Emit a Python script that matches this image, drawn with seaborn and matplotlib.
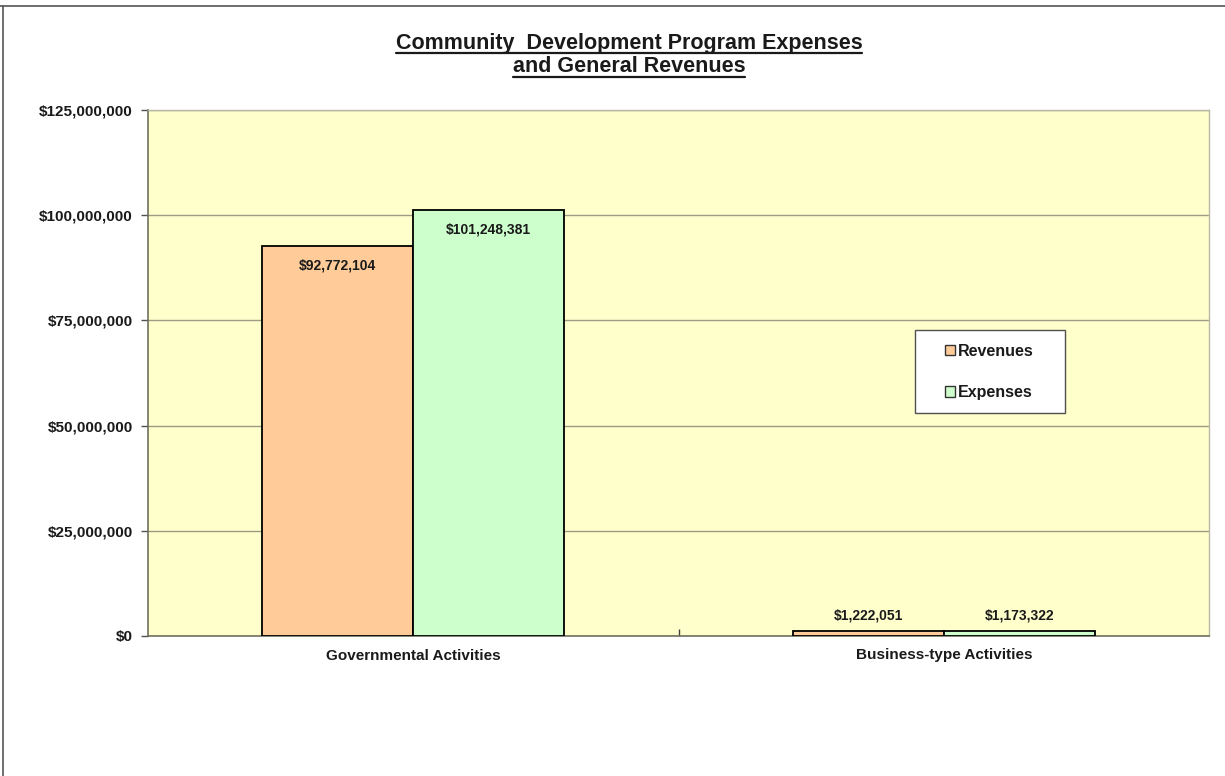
import matplotlib
matplotlib.use("Agg")
import matplotlib.pyplot as plt
import matplotlib.patches as mpatches
from matplotlib.lines import Line2D
from matplotlib.ticker import FuncFormatter, FixedLocator
import seaborn as sns
import pandas as pd

categories = ["Governmental Activities", "Business-type Activities"]
series = ["Revenues", "Expenses"]
revenues = [92772104, 1222051]
expenses = [101248381, 1173322]
y_ticks = [0, 25000000, 50000000, 75000000, 100000000, 125000000]

colors = {"Revenues": "#FFCC99", "Expenses": "#CCFFCC"}

df = pd.DataFrame({
    "Category": categories * 2,
    "Series": ["Revenues"] * len(categories) + ["Expenses"] * len(categories),
    "Value": revenues + expenses,
})

sns.set_theme(style="white")
plt.rcParams["font.family"] = ["Liberation Sans", "DejaVu Sans"]
plt.rcParams["font.weight"] = "bold"

W, H = 1225, 776
fig = plt.figure(figsize=(W / 100, H / 100), dpi=100)
ax = fig.add_axes([148 / W, 1 - 636 / H, (1209 - 148) / W, (636 - 110) / H])
ax.set_facecolor("#FFFFCC")

sns.barplot(data=df, x="Category", y="Value", hue="Series", order=categories,
            hue_order=series, palette=colors, width=0.57, ax=ax,
            edgecolor="black", linewidth=1.3, saturation=1, legend=False,
            zorder=3)

ax.set_ylim(0, 125000000)
ax.set_xlim(-0.5, 1.5)
ax.set_yticks(y_ticks)
ax.yaxis.set_major_formatter(FuncFormatter(lambda v, p: f"${v:,.0f}"))
ax.grid(axis="y", color="#9C9C84", linewidth=1.0, zorder=0)
ax.set_axisbelow(True)
ax.set_xlabel("")
ax.set_ylabel("")

for s in ["top", "right"]:
    ax.spines[s].set_color("#B8B8A8")
    ax.spines[s].set_linewidth(1.0)
for s in ["left", "bottom"]:
    ax.spines[s].set_color("#707060")
    ax.spines[s].set_linewidth(1.2)

ax.tick_params(axis="y", which="major", direction="out", length=5, width=1,
               color="#505050", left=True, labelsize=11, pad=6)
ax.tick_params(axis="x", which="major", length=0, labelsize=11, pad=9)
ax.xaxis.set_minor_locator(FixedLocator([0.5]))
ax.tick_params(axis="x", which="minor", direction="in", length=5, width=1,
               color="#404040", bottom=True)
for lbl in ax.get_xticklabels() + ax.get_yticklabels():
    lbl.set_fontweight("bold")
    lbl.set_color("#1a1a1a")

# value labels: inside the tall bars, above the short ones
for container, vals in zip(ax.containers, [revenues, expenses]):
    for bar, v in zip(container, vals):
        cx = bar.get_x() + bar.get_width() / 2
        top = bar.get_height()
        if top > 20000000:
            ax.annotate(f"${v:,.0f}", (cx, top), xytext=(0, -9),
                        textcoords="offset points", ha="center", va="top",
                        fontsize=10, fontweight="bold", color="#1a1a1a")
        else:
            ax.annotate(f"${v:,.0f}", (cx, top), xytext=(0, 6),
                        textcoords="offset points", ha="center", va="bottom",
                        fontsize=10, fontweight="bold", color="#1a1a1a")

# legend: white box with two entries
box = mpatches.Rectangle((915 / W, 1 - 413 / H), 150 / W, 83 / H,
                         transform=fig.transFigure, facecolor="white",
                         edgecolor="#505050", linewidth=1.0, zorder=5)
fig.add_artist(box)
handles = [mpatches.Patch(facecolor=colors[s], edgecolor="#333333", linewidth=1.0, label=s)
           for s in series]
leg = fig.legend(handles=handles, loc="center left",
                 bbox_to_anchor=(945 / W, 1 - 372 / H), frameon=False,
                 prop={"size": 11.5, "weight": "bold"},
                 handlelength=0.6, handleheight=0.6, handletextpad=0.2,
                 labelspacing=1.65, borderpad=0, borderaxespad=0)
leg.set_zorder(6)
for t in leg.get_texts():
    t.set_color("#1a1a1a")

# title, two underlined lines
title_lines = ["Community  Development Program Expenses", "and General Revenues"]
title_y = [43, 67]
fig.canvas.draw()
renderer = fig.canvas.get_renderer()
for line, yy in zip(title_lines, title_y):
    t = fig.text(629 / W, 1 - yy / H, line, ha="center", va="center",
                 fontsize=15.5, fontweight="bold", color="#1a1a1a")
    bb = t.get_window_extent(renderer=renderer)
    x0, x1 = bb.x0 / W, bb.x1 / W
    uy = 1 - (yy + 10) / H
    fig.add_artist(Line2D([x0, x1], [uy, uy], color="#1a1a1a", linewidth=1.6,
                          transform=fig.transFigure))

# outer frame lines (top and left)
fig.add_artist(Line2D([0, 1], [1 - 6 / H, 1 - 6 / H], color="#555555",
                      linewidth=1.2, transform=fig.transFigure))
fig.add_artist(Line2D([3 / W, 3 / W], [0, 1 - 6 / H], color="#555555",
                      linewidth=1.2, transform=fig.transFigure))

fig.savefig("out.png", dpi=100)
